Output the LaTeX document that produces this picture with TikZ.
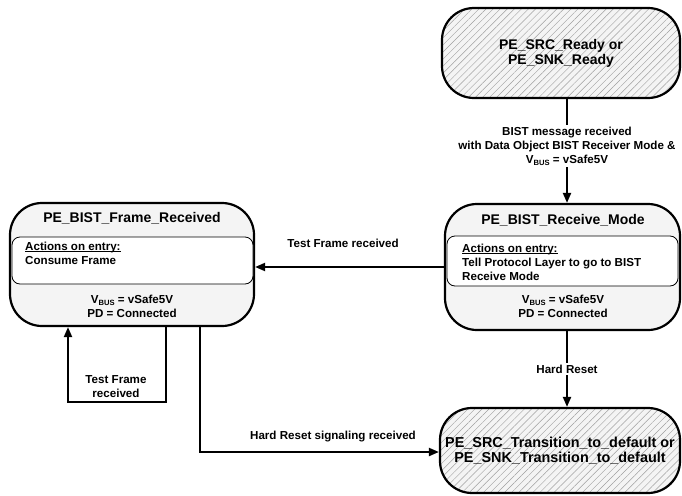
\documentclass[tikz,border=0pt]{standalone}
\usepackage{fontspec}
\setmainfont{Liberation Sans}
\usetikzlibrary{arrows.meta,patterns.meta}
\newcommand{\vbusx}{V\raisebox{-1.6pt}{\fontsize{7.6}{8}\selectfont BUS}}
\newcommand{\ulx}[1]{\leavevmode\rlap{\rule[-1.7pt]{\widthof{#1}}{0.9pt}}#1}
\usepackage{calc}
\begin{document}
\begin{tikzpicture}[x=1pt,y=-1pt,
  every node/.style={font=\fontsize{11.6}{14}\bfseries\selectfont},
  state/.style={draw, line width=2.2pt, rounded corners=32pt, fill=gray!9, inner sep=0pt},
  hatched/.style={draw, line width=2.2pt, rounded corners=32pt, inner sep=0pt,
    preaction={fill=gray!9},
    pattern={Lines[angle=45,distance=5pt,line width=0.45pt]}, pattern color=gray!75},
  actbox/.style={draw, line width=0.8pt, rounded corners=8pt, fill=white, inner sep=0pt},
  title/.style={font=\fontsize{14}{15}\bfseries\selectfont},
  bigtitle/.style={font=\fontsize{14.4}{15}\bfseries\selectfont},
  body/.style={align=left, inner sep=0pt, anchor=west},
  info/.style={align=center, inner sep=0pt},
  conn/.style={line width=2pt, -{Triangle[length=10pt,width=8pt]}},
  lbl/.style={align=center, inner sep=2pt, fill=white},
  plainlbl/.style={align=center, inner sep=0pt}
]
\useasboundingbox (0,0) rectangle (682,495);

% states
\node[state, minimum width=244pt, minimum height=123pt] (fr) at (132,264.5) {};
\node[actbox, minimum width=241pt, minimum height=47pt] (fract) at (132.5,260.5) {};
\node[title] (frt) at (132,218) {PE\_BIST\_Frame\_Received};
\node[body] (frb) at (25,253.5) {\ulx{Actions on entry:}\\Consume Frame};
\node[info] (fri) at (132,306.5) {\vbusx{} = vSafe5V\\PD = Connected};

\node[state, minimum width=235pt, minimum height=126pt] (rm) at (562.5,267) {};
\node[actbox, minimum width=231pt, minimum height=50pt] (rmact) at (562.5,261) {};
\node[title] (rmt) at (563,220) {PE\_BIST\_Receive\_Mode};
\node[body] (rmb) at (462,262) {\ulx{Actions on entry:}\\Tell Protocol Layer to go to BIST\\Receive Mode};
\node[info] (rmi) at (563,306.5) {\vbusx{} = vSafe5V\\PD = Connected};

\node[hatched, title, align=center, minimum width=238pt, minimum height=90pt] (rd) at (561,53)
  {PE\_SRC\_Ready or\\PE\_SNK\_Ready};
\node[hatched, bigtitle, align=center, minimum width=240pt, minimum height=85pt] (bt) at (560,450.5)
  {PE\_SRC\_Transition\_to\_default or\\PE\_SNK\_Transition\_to\_default};

% helper coordinates
\coordinate (ax) at (567,0);
\coordinate (ty) at (0,267);
\coordinate (c1) at (166,402);
\coordinate (c2) at (68,402);
\coordinate (c3) at (200,452);

% connectors
\draw[conn] (rd.south -| ax) -- node[lbl, pos=0.46] (l1)
  {BIST message received\\with Data Object BIST Receiver Mode \&\\\vbusx{} = vSafe5V} (rm.north -| ax);
\draw[conn] (rm.west |- ty) -- node[plainlbl, pos=0.534, yshift=24pt] (l2) {Test Frame received} (fr.east |- ty);
\draw[conn] (rm.south -| ax) -- node[lbl] (l3) {Hard Reset} (bt.north -| ax);
\draw[conn] (fr.south -| c1) -- (c1) -- (c2) -- (fr.south -| c2);
\node[plainlbl] (l4) at (116,386.5) {Test Frame\\received};
\draw[conn] (fr.south -| c3) -- (c3) -- (bt.west |- c3);
\node[plainlbl] (l5) at (333,437) {Hard Reset signaling received};
\end{tikzpicture}
\end{document}
